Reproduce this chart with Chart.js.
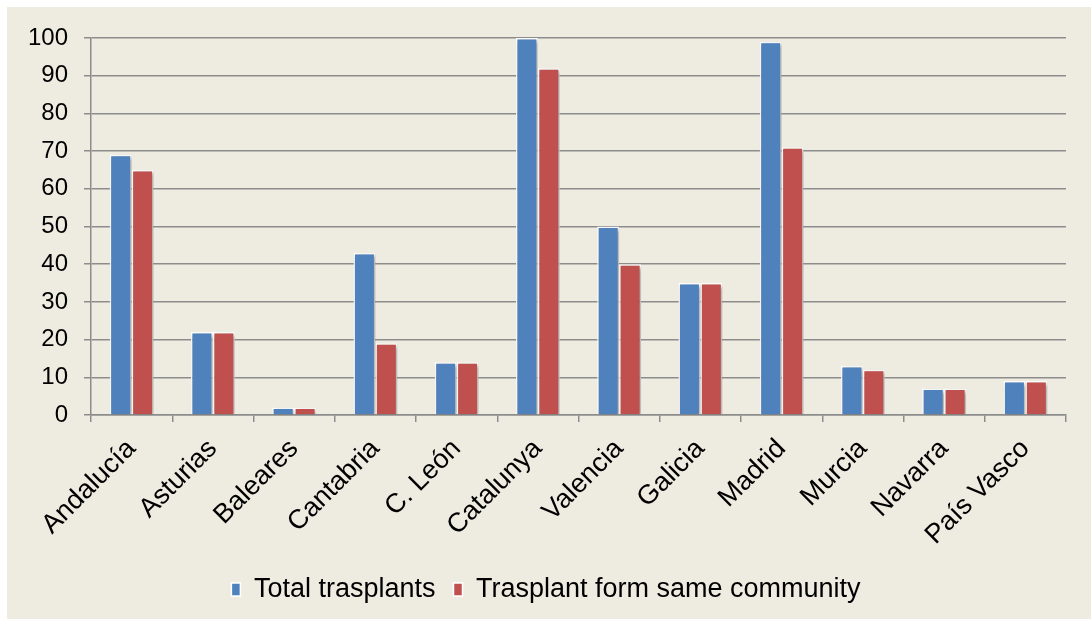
<!DOCTYPE html>
<html>
<head>
<meta charset="utf-8">
<script src="https://cdn.jsdelivr.net/npm/chart.js@4"></script>
<style>
  html, body { margin: 0; padding: 0; background: #ffffff; }
  #wrap { position: absolute; left: 7px; top: 7px; width: 1084px; height: 612px; background: #EEECE1; }
  canvas { display: block; }
</style>
</head>
<body>
<div id="wrap"><canvas id="c" width="1084" height="612"></canvas></div>
<script>
const categories = ["Andalucía", "Asturias", "Baleares", "Cantabria", "C. León", "Catalunya", "Valencia", "Galicia", "Madrid", "Murcia", "Navarra", "País Vasco"];
const totalTrasplants = [69, 22, 2, 43, 14, 100, 50, 35, 99, 13, 7, 9];
const sameCommunity = [65, 22, 2, 19, 14, 92, 40, 35, 71, 12, 7, 9];
const seriesNames = ["Total trasplants", "Trasplant form same community"];
const yMin = 0, yMax = 100, yStep = 10;

const shadowPlugin = {
  id: 'barShadow',
  beforeDatasetsDraw(chart) {
    const ctx = chart.ctx;
    ctx.save();
    ctx.shadowColor = 'rgba(0,0,0,0.35)';
    ctx.shadowBlur = 4;
    ctx.shadowOffsetX = 2;
    ctx.shadowOffsetY = 2;
  },
  afterDatasetsDraw(chart) {
    chart.ctx.restore();
  }
};

const gridColor = '#8C8C8C';
const fontFamily = "'Liberation Sans', Arial, sans-serif";

new Chart(document.getElementById('c'), {
  type: 'bar',
  data: {
    labels: categories,
    datasets: [
      { label: seriesNames[0], data: totalTrasplants, backgroundColor: '#4F81BD', borderColor: '#FFFFFF', borderWidth: 1.5 },
      { label: seriesNames[1], data: sameCommunity, backgroundColor: '#C0504D', borderColor: '#FFFFFF', borderWidth: 1.5 }
    ]
  },
  options: {
    responsive: false,
    animation: false,
    layout: { padding: { top: 31, right: 25, bottom: 6, left: 19 } },
    datasets: { bar: { categoryPercentage: 0.54, barPercentage: 1.0 } },
    plugins: {
      tooltip: { enabled: false },
      legend: {
        position: 'bottom',
        labels: {
          font: { family: fontFamily, size: 27 },
          color: '#000000',
          boxWidth: 9,
          boxHeight: 13,
          padding: 18
        }
      }
    },
    scales: {
      x: {
        offset: true,
        grid: { display: true, drawOnChartArea: false, drawTicks: true, tickLength: 7, color: gridColor, lineWidth: 1.5, offset: true },
        border: { display: true, color: gridColor, width: 1.5 },
        ticks: {
          font: { family: fontFamily, size: 27 },
          color: '#000000',
          minRotation: 45,
          maxRotation: 45,
          autoSkip: false,
          padding: 11
        },
        afterFit(scale) { scale.height = 143; }
      },
      y: {
        min: yMin,
        max: yMax,
        grid: { color: gridColor, lineWidth: 1.5, tickLength: 7, drawTicks: true },
        border: { display: true, color: gridColor, width: 1.5 },
        ticks: {
          stepSize: yStep,
          font: { family: fontFamily, size: 24 },
          color: '#000000',
          padding: 16
        },
        afterFit(scale) { scale.width = 65; }
      }
    }
  },
  plugins: [shadowPlugin]
});
</script>
</body>
</html>
